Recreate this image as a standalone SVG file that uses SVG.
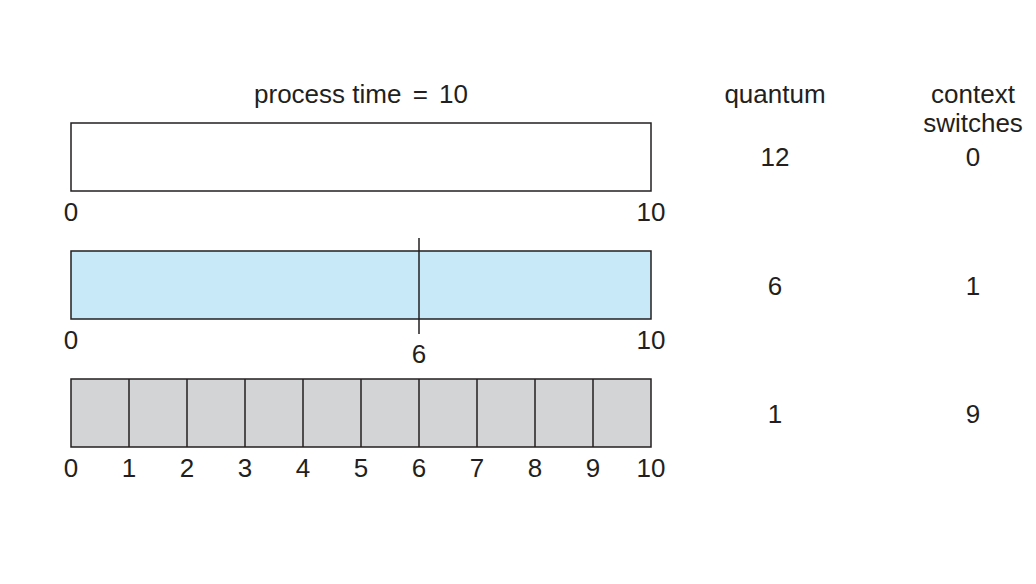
<svg xmlns="http://www.w3.org/2000/svg" width="1036" height="584" viewBox="0 0 1036 584">
<style>
text{font-family:"Liberation Sans",Arial,sans-serif;font-size:26px;fill:#231f20}
.m{text-anchor:middle}
.bar{stroke:#231f20;stroke-width:1.5}
line{stroke:#231f20;stroke-width:1.5}
</style>
<rect width="1036" height="584" fill="#fff"/>
<text class="m" x="361" y="103">process time <tspan dx="4">=</tspan><tspan dx="4"> 10</tspan></text>
<text class="m" x="775" y="103">quantum</text>
<text class="m" x="973" y="103">context</text>
<text class="m" x="973" y="132">switches</text>
<g id="bar1">
<rect class="bar" x="71" y="123" width="580" height="68" fill="#fff"/>
<text class="m" x="71" y="221">0</text><text class="m" x="651" y="221">10</text>
<text class="m" x="775" y="166">12</text><text class="m" x="973" y="166">0</text>
</g>
<g id="bar2">
<rect class="bar" x="71" y="251" width="580" height="68" fill="#c8e9f7"/>
<line x1="419" y1="238" x2="419" y2="334"/>
<text class="m" x="71" y="349">0</text><text class="m" x="651" y="349">10</text>
<text class="m" x="419" y="363">6</text>
<text class="m" x="775" y="295">6</text><text class="m" x="973" y="295">1</text>
</g>
<g id="bar3">
<rect class="bar" x="71" y="379" width="580" height="68" fill="#d3d4d5"/>
<g id="ticks">
<line x1="129" y1="379" x2="129" y2="447"/><line x1="187" y1="379" x2="187" y2="447"/>
<line x1="245" y1="379" x2="245" y2="447"/><line x1="303" y1="379" x2="303" y2="447"/>
<line x1="361" y1="379" x2="361" y2="447"/><line x1="419" y1="379" x2="419" y2="447"/>
<line x1="477" y1="379" x2="477" y2="447"/><line x1="535" y1="379" x2="535" y2="447"/>
<line x1="593" y1="379" x2="593" y2="447"/>
</g>
<text class="m" x="71" y="477">0</text><text class="m" x="129" y="477">1</text><text class="m" x="187" y="477">2</text>
<text class="m" x="245" y="477">3</text><text class="m" x="303" y="477">4</text><text class="m" x="361" y="477">5</text>
<text class="m" x="419" y="477">6</text><text class="m" x="477" y="477">7</text><text class="m" x="535" y="477">8</text>
<text class="m" x="593" y="477">9</text><text class="m" x="651" y="477">10</text>
<text class="m" x="775" y="423">1</text><text class="m" x="973" y="423">9</text>
</g>
</svg>
